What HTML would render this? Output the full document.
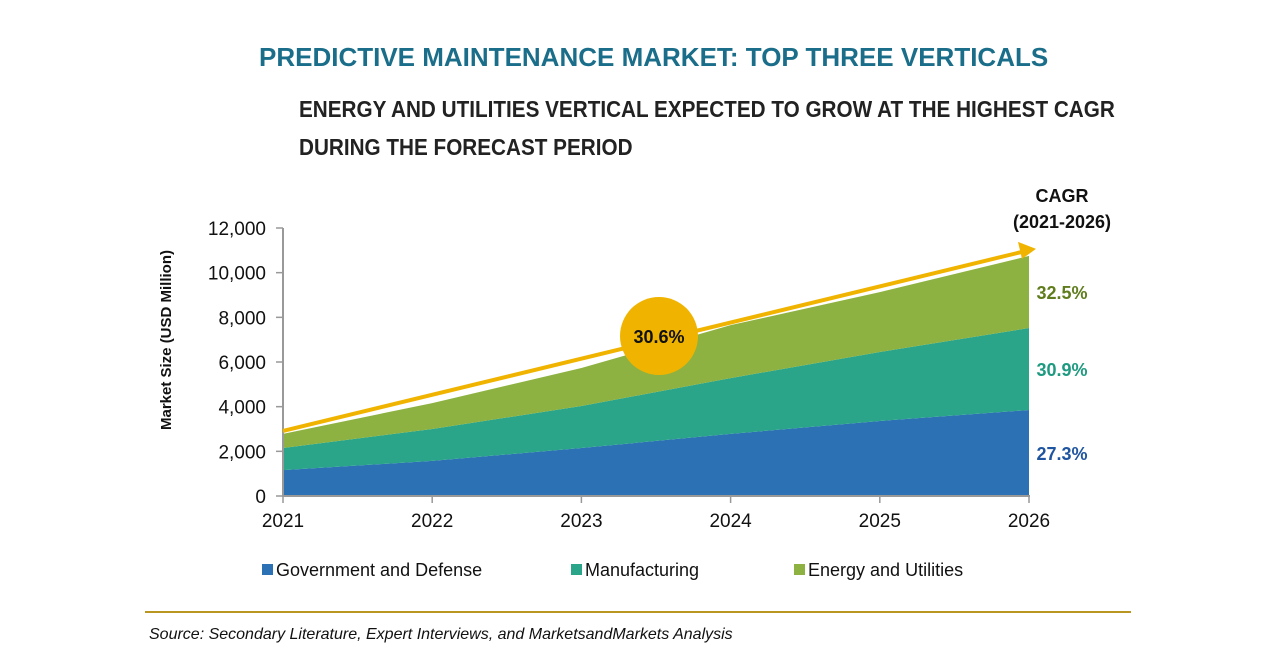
<!DOCTYPE html>
<html><head><meta charset="utf-8"><style>
body{margin:0;width:1280px;height:670px;background:#fff;font-family:"Liberation Sans",sans-serif;overflow:hidden;position:relative}
.t{position:absolute;font-family:"Liberation Sans Narrow","Liberation Sans",sans-serif;font-weight:bold;white-space:nowrap}
</style></head><body>
<div class="t" style="left:259px;top:42px;font-size:26px;color:#1a6e8a;transform:scaleX(1.0);transform-origin:left">PREDICTIVE MAINTENANCE MARKET: TOP THREE VERTICALS</div>
<div class="t" style="left:299px;top:90px;font-size:23px;line-height:38px;color:#222;transform:scaleX(0.9);transform-origin:left">ENERGY AND UTILITIES VERTICAL EXPECTED TO GROW AT THE HIGHEST CAGR<br>DURING THE FORECAST PERIOD</div>
<svg id="c" width="1280" height="670" style="position:absolute;left:0;top:0"></svg>
<div style="position:absolute;left:145px;top:611px;width:986px;height:2px;background:#b8961f"></div>
<div style="position:absolute;left:149px;top:626px;font-size:16px;font-style:italic;color:#111;white-space:nowrap">Source: Secondary Literature, Expert Interviews, and MarketsandMarkets Analysis</div>
<script>
const years=["2021","2022","2023","2024","2025","2026"];
const gov=[1160,1570,2150,2780,3360,3850];
const mfg=[990,1430,1880,2500,3090,3670];
const energy=[630,1160,1700,2370,2680,3230];
const yTicks=[0,2000,4000,6000,8000,10000,12000];
const cagrs=["27.3%","30.9%","32.5%"];
const overall="30.6%";
const NS="http://www.w3.org/2000/svg",svg=document.getElementById('c');
const X=i=>283+i*(1029-283)/5, Y=v=>496-v*(268/12000);
function el(t,a,p){const e=document.createElementNS(NS,t);for(const k in a)e.setAttribute(k,a[k]);(p||svg).appendChild(e);return e;}
function txt(s,a){const e=el('text',a);e.textContent=s;return e;}
const c1=gov.map((v,i)=>v), c2=gov.map((v,i)=>v+mfg[i]), c3=c2.map((v,i)=>v+energy[i]);
function area(lo,hi,fill,name){let d='M'+hi.map((v,i)=>X(i)+','+Y(v)).join(' L');for(let i=lo.length-1;i>=0;i--)d+=' L'+X(i)+','+Y(lo[i]);const p=el('path',{d:d+'Z',fill:fill});

}
area(years.map(()=>0),c1,'#2b71b3','area-government-defense');
area(c1,c2,'#2aa58a','area-manufacturing');
area(c2,c3,'#8db241','area-energy-utilities');
el('line',{x1:283,y1:228,x2:283,y2:497,stroke:'#999','stroke-width':2});
el('line',{x1:282,y1:496,x2:1030,y2:496,stroke:'#999','stroke-width':2});
yTicks.forEach(v=>{el('line',{x1:276,y1:Y(v),x2:283,y2:Y(v),stroke:'#999','stroke-width':1.5});
const t=txt(v.toLocaleString('en-US'),{x:266,y:Y(v)+7,'text-anchor':'end','font-size':19,fill:'#111'});

});
years.forEach((y,i)=>{el('line',{x1:X(i),y1:496,x2:X(i),y2:503,stroke:'#999','stroke-width':1.5});
const t=txt(y,{x:X(i),y:527,'text-anchor':'middle','font-size':19,fill:'#111'});

});
const yt=txt('Market Size (USD Million)',{x:0,y:0,transform:'translate(171,340) rotate(-90)','text-anchor':'middle','font-size':15,'font-weight':'bold',fill:'#111'});


el('line',{x1:283,y1:Y(c3[0])-3,x2:1022,y2:Y(c3[5])-4,stroke:'#f0b400','stroke-width':4});
el('polygon',{points:`1036,${Y(c3[5])-7} 1018,${Y(c3[5])-14} 1022,${Y(c3[5])+3}`,fill:'#f0b400'});
const cc=el('circle',{cx:659,cy:336,r:39,fill:'#f0b400'});


txt(overall,{x:659,y:343,'text-anchor':'middle','font-size':18,'font-weight':'bold',fill:'#111','font-family':'Liberation Sans Narrow,Liberation Sans,sans-serif'});
txt('CAGR',{x:1062,y:202,'text-anchor':'middle','font-size':18,'font-weight':'bold',fill:'#111','font-family':'Liberation Sans Narrow,Liberation Sans,sans-serif'});
txt('(2021-2026)',{x:1062,y:228,'text-anchor':'middle','font-size':18,'font-weight':'bold',fill:'#111','font-family':'Liberation Sans Narrow,Liberation Sans,sans-serif'});
const mids=[c1[5]/2,(c1[5]+c2[5])/2,(c2[5]+c3[5])/2],cols=['#1f55a0','#1e9a80','#5f7d1c'];
cagrs.forEach((s,i)=>{const t=txt(s,{x:1062,y:Y(mids[i])+7,'text-anchor':'middle','font-size':18,'font-weight':'bold',fill:cols[i],'font-family':'Liberation Sans Narrow,Liberation Sans,sans-serif'});

});
const leg=[['Government and Defense','#2b71b3',262],['Manufacturing','#2aa58a',571],['Energy and Utilities','#8db241',794]];
leg.forEach(l=>{const g=el('g',{});


el('rect',{x:l[2],y:564,width:11,height:11,fill:l[1]},g);
const t=el('text',{x:l[2]+14,y:576,'font-size':18,fill:'#111'},g);t.textContent=l[0];});
</script>
</body></html>
